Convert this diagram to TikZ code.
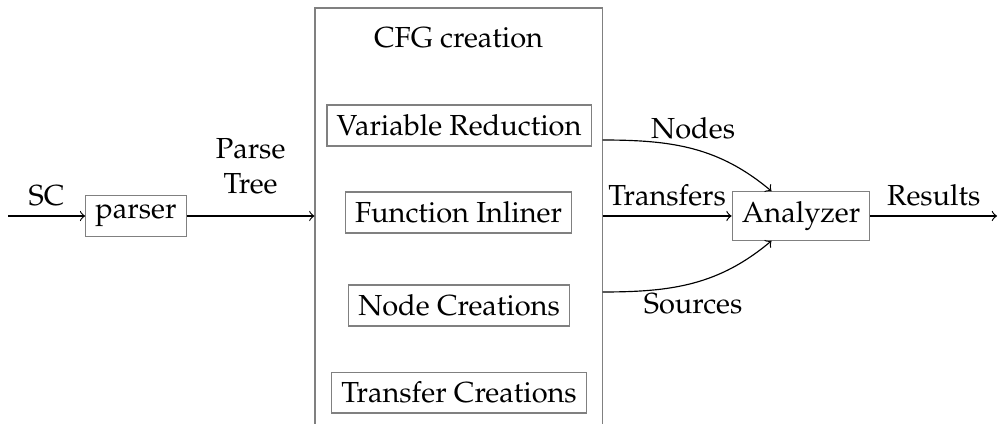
\documentclass[tikz,border=0pt]{standalone}
\usepackage[T1]{fontenc}
\usepackage{mathpazo}
\usetikzlibrary{positioning}
\tikzset{
  block/.style={draw=gray,rectangle},
}
\begin{document}
\begin{tikzpicture}
\useasboundingbox (0,0) rectangle (12.096,-5.127);
\coordinate (in) at (0.097,-2.618);
\coordinate (out) at (12.085,-2.618);
\node[block] (parser) at (1.648,-2.618) {parser};
\node[block,minimum width=3.479cm,minimum height=5.106cm] (cfg) at (5.558,-2.65) {};
\node (cfgtitle) at (5.558,-0.46) {CFG creation};
\node[block] (varred) at (5.564,-1.521) {Variable Reduction};
\node[block] (inliner) at (5.558,-2.576) {Function Inliner};
\node[block] (nodecr) at (5.564,-3.703) {Node Creations};
\node[block] (transcr) at (5.564,-4.758) {Transfer Creations};
\node[block] (analyzer) at (9.709,-2.618) {Analyzer};
\draw[->] (in) -- (parser) node[midway,above] {SC};
\draw[->] (parser) -- (parser -| cfg.west) node[midway,above,yshift=4pt,align=center] {Parse\\Tree};
\draw[->] ([yshift=0.921cm]cfg.east |- analyzer) to[out=0,in=140] node[midway,above] {Nodes} (analyzer);
\draw[->] (cfg.east |- analyzer) -- (analyzer) node[midway,above] {Transfers};
\draw[->] ([yshift=-0.921cm]cfg.east |- analyzer) to[out=0,in=220] node[midway,below] {Sources} (analyzer);
\draw[->] (analyzer) -- (out) node[midway,above] {Results};
\end{tikzpicture}
\end{document}
